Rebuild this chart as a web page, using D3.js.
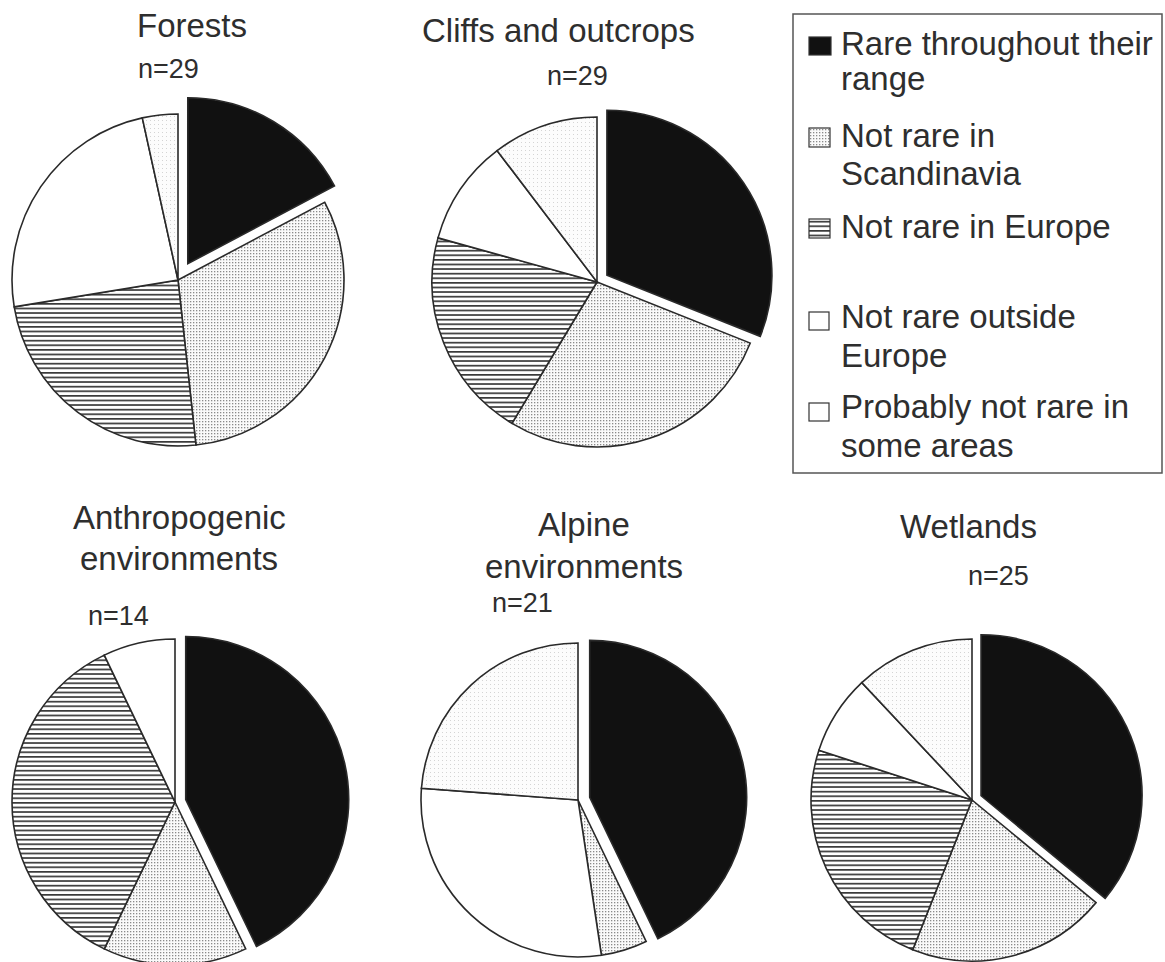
<!DOCTYPE html>
<html>
<head>
<meta charset="utf-8">
<script src="https://cdn.jsdelivr.net/npm/d3@7"></script>
<style>
  html, body { margin: 0; padding: 0; background: #fff; }
  svg { display: block; }
  text { font-family: "Liberation Sans", Arial, Helvetica, sans-serif; fill: #2e2e2e; }
</style>
</head>
<body>
<svg id="chart" width="1165" height="962"></svg>
<script>
// ---- data ----
const categories = [
  "Rare throughout their range",
  "Not rare in Scandinavia",
  "Not rare in Europe",
  "Not rare outside Europe",
  "Probably not rare in some areas"
];
const habitats = ["Forests", "Cliffs and outcrops", "Anthropogenic environments", "Alpine environments", "Wetlands"];
const nLabels = ["n=29", "n=29", "n=14", "n=21", "n=25"];
const forests   = [5, 9, 7, 7, 1];
const cliffs    = [9, 8, 6, 3, 3];
const anthropogenic = [6, 2, 5, 1, 0];
const alpine    = [9, 1, 0, 6, 5];
const wetlands  = [9, 5, 6, 2, 3];
const seriesValues = [forests, cliffs, anthropogenic, alpine, wetlands];

// ---- layout (positions/styles) ----
const layout = [
  { cx: 178, cy: 280, r: 166, explode: 19,
    title: [{ t: "Forests", x: 137, y: 37 }], n: { x: 138, y: 78 } },
  { cx: 597, cy: 282, r: 165, explode: 12,
    title: [{ t: "Cliffs and outcrops", x: 422, y: 42 }], n: { x: 547, y: 85 } },
  { cx: 175, cy: 802, r: 163, explode: 11,
    title: [{ t: "Anthropogenic", x: 73, y: 529 }, { t: "environments", x: 80, y: 570 }], n: { x: 88, y: 625 } },
  { cx: 578, cy: 800, r: 157, explode: 12,
    title: [{ t: "Alpine", x: 538, y: 536 }, { t: "environments", x: 485, y: 578 }], n: { x: 492, y: 612 } },
  { cx: 972, cy: 800, r: 161, explode: 10,
    title: [{ t: "Wetlands", x: 900, y: 538 }], n: { x: 968, y: 585 } }
];

const svg = d3.select("#chart");
const defs = svg.append("defs");

// stipple pattern
const stip = defs.append("pattern").attr("id", "stipple")
  .attr("patternUnits", "userSpaceOnUse").attr("width", 3).attr("height", 3);
stip.append("rect").attr("width", 3).attr("height", 3).attr("fill", "#fafafa");
stip.append("rect").attr("x", 0).attr("y", 0).attr("width", 1.3).attr("height", 1.3).attr("fill", "#8a8a8a");

// faint stipple
const faint = defs.append("pattern").attr("id", "faint")
  .attr("patternUnits", "userSpaceOnUse").attr("width", 4).attr("height", 4);
faint.append("rect").attr("width", 4).attr("height", 4).attr("fill", "#fcfcfc");
faint.append("rect").attr("x", 0).attr("y", 0).attr("width", 1).attr("height", 1).attr("fill", "#d4d4d4");

// horizontal lines pattern
const hl = defs.append("pattern").attr("id", "hlines")
  .attr("patternUnits", "userSpaceOnUse").attr("width", 10).attr("height", 4.6);
hl.append("rect").attr("width", 10).attr("height", 4.6).attr("fill", "#fff");
hl.append("rect").attr("x", 0).attr("y", 0).attr("width", 10).attr("height", 1.7).attr("fill", "#3a3a3a");

const fills = ["#111", "url(#stipple)", "url(#hlines)", "#fff", "url(#faint)"];
const legendFills = ["#111", "url(#stipple)", "url(#hlines)", "#fff", "#fff"];
const color = d3.scaleOrdinal().domain(categories).range(fills);

const pie = d3.pie().sort(null).value(d => d.value);

seriesValues.forEach((vals, i) => {
  const L = layout[i];
  const data = categories.map((c, k) => ({ cat: c, value: vals[k] }));
  const arcs = pie(data).filter(a => a.data.value > 0);
  const arc = d3.arc().innerRadius(0).outerRadius(L.r);
  const g = svg.append("g").attr("transform", `translate(${L.cx},${L.cy})`);
  g.selectAll("path").data(arcs).join("path")
    .attr("d", arc)
    .attr("transform", d => {
      if (d.data.cat !== categories[0]) return null;
      const m = (d.startAngle + d.endAngle) / 2;
      return `translate(${Math.sin(m) * L.explode},${-Math.cos(m) * L.explode})`;
    })
    .attr("fill", d => color(d.data.cat))
    .attr("stroke", "#2a2a2a")
    .attr("stroke-width", 1.6)
    .attr("stroke-linejoin", "miter");

  L.title.forEach(t => {
    svg.append("text").attr("x", t.x).attr("y", t.y)
      .attr("font-size", 33).text(t.t);
  });
  svg.append("text").attr("x", L.n.x).attr("y", L.n.y)
    .attr("font-size", 27).text(nLabels[i]);
});

// ---- legend ----
const lg = svg.append("g");
lg.append("rect").attr("x", 793).attr("y", 14).attr("width", 369).attr("height", 459)
  .attr("fill", "none").attr("stroke", "#555").attr("stroke-width", 1.5);

const legendRows = [
  { lines: ["Rare throughout their", "range"], y: 55, sw: { y: 37, w: 22, h: 18 } },
  { lines: ["Not rare in", "Scandinavia"], y: 147, sw: { y: 128, w: 21, h: 19 } },
  { lines: ["Not rare in Europe"], y: 238, sw: { y: 219, w: 21, h: 19 } },
  { lines: ["Not rare outside", "Europe"], y: 328, sw: { y: 312, w: 20, h: 18 } },
  { lines: ["Probably not rare in", "some areas"], y: 418, sw: { y: 403, w: 20, h: 18 } }
];
const lineGap = [35, 38, 0, 39, 39];
legendRows.forEach((row, k) => {
  lg.append("rect").attr("x", 809).attr("y", row.sw.y)
    .attr("width", row.sw.w).attr("height", row.sw.h)
    .attr("fill", legendFills[k]).attr("stroke", "#333").attr("stroke-width", 1.2);
  row.lines.forEach((t, j) => {
    lg.append("text").attr("x", 841).attr("y", row.y + j * lineGap[k])
      .attr("font-size", 33).text(t);
  });
});
</script>
</body>
</html>
